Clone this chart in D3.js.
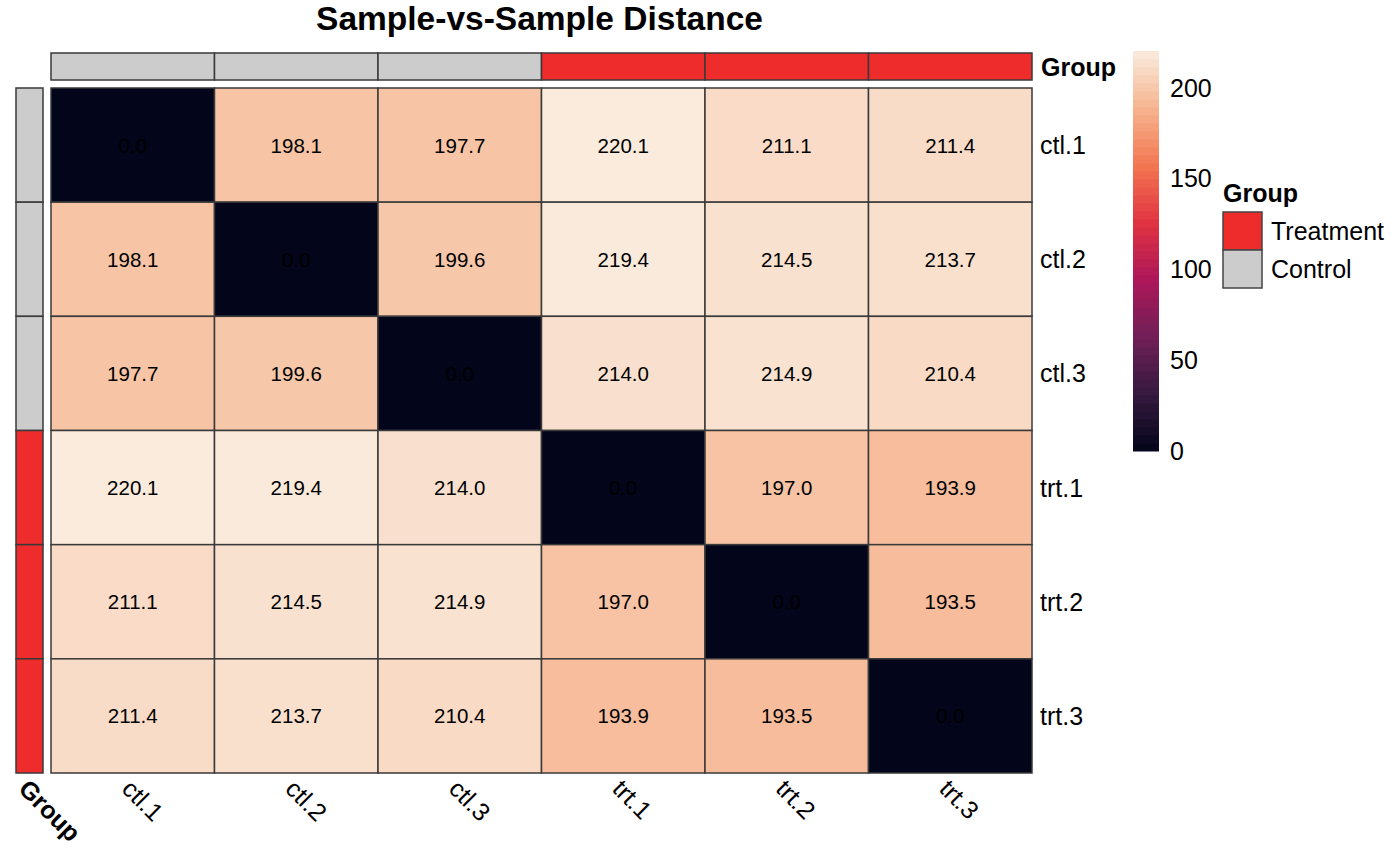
<!DOCTYPE html>
<html>
<head>
<meta charset="utf-8">
<script src="https://cdn.jsdelivr.net/npm/d3@7"></script>
<style>
  html, body { margin: 0; padding: 0; background: #fff; }
  svg { display: block; font-family: "Liberation Sans", Arial, Helvetica, sans-serif; }
</style>
</head>
<body>
<svg id="chart" width="1400" height="866"></svg>
<script>
// ---- data ----
const samples = ["ctl.1", "ctl.2", "ctl.3", "trt.1", "trt.2", "trt.3"];
const groups = ["Control", "Control", "Control", "Treatment", "Treatment", "Treatment"];
const distRows = [
  [0.0, 198.1, 197.7, 220.1, 211.1, 211.4],
  [198.1, 0.0, 199.6, 219.4, 214.5, 213.7],
  [197.7, 199.6, 0.0, 214.0, 214.9, 210.4],
  [220.1, 219.4, 214.0, 0.0, 197.0, 193.9],
  [211.1, 214.5, 214.9, 197.0, 0.0, 193.5],
  [211.4, 213.7, 210.4, 193.9, 193.5, 0.0]
];
const legendTicks = [0, 50, 100, 150, 200];
const groupLevels = ["Treatment", "Control"];
const groupColors = ["#EE2C2C", "#CCCCCC"];
const title = "Sample-vs-Sample Distance";
const annoName = "Group";
// rocket palette stops
const rocketStops = ["#03051a", "#35193e", "#701f57", "#ad1759", "#e13342", "#f37651", "#f6b48f", "#faebdd"];

// ---- layout ----
const svg = d3.select("#chart");
const L = 51, R = 1032, T = 88, B = 773;
const stroke = "#3a3a3a";

const x = d3.scaleBand().domain(samples).range([L, R]);
const y = d3.scaleBand().domain(samples).range([T, B]);
const vmax = d3.max(distRows.flat());
const color = d3.scaleSequential(d3.piecewise(d3.interpolateRgb, rocketStops)).domain([0, vmax]);
const gcol = d3.scaleOrdinal().domain(groupLevels).range(groupColors);

const cells = [];
distRows.forEach((row, i) => row.forEach((v, j) => cells.push({r: samples[i], c: samples[j], v})));

// title
svg.append("text").attr("x", 539.5).attr("y", 30)
  .attr("text-anchor", "middle").attr("font-size", 33.5).attr("font-weight", "bold")
  .text(title);

// heatmap cells
svg.append("g").selectAll("rect").data(cells).join("rect")
  .attr("x", d => x(d.c)).attr("y", d => y(d.r))
  .attr("width", x.bandwidth()).attr("height", y.bandwidth())
  .attr("fill", d => color(d.v)).attr("stroke", stroke).attr("stroke-width", 1.5);

svg.append("g").selectAll("text").data(cells).join("text")
  .attr("x", d => x(d.c) + x.bandwidth() / 2).attr("y", d => y(d.r) + y.bandwidth() / 2)
  .attr("text-anchor", "middle").attr("dominant-baseline", "central")
  .attr("font-size", 20.5).attr("fill", "#000")
  .text(d => d.v.toFixed(1));

// top annotation
const topY0 = 53, topY1 = 80;
svg.append("g").selectAll("rect").data(samples).join("rect")
  .attr("x", d => x(d)).attr("y", topY0).attr("width", x.bandwidth()).attr("height", topY1 - topY0)
  .attr("fill", (d, i) => gcol(groups[i])).attr("stroke", stroke).attr("stroke-width", 1.5);
svg.append("text").attr("x", 1041).attr("y", (topY0 + topY1) / 2)
  .attr("dominant-baseline", "central").attr("font-size", 25).attr("font-weight", "bold").text(annoName);

// left annotation
const leftX0 = 16, leftX1 = 43;
svg.append("g").selectAll("rect").data(samples).join("rect")
  .attr("x", leftX0).attr("y", d => y(d)).attr("width", leftX1 - leftX0).attr("height", y.bandwidth())
  .attr("fill", (d, i) => gcol(groups[i])).attr("stroke", stroke).attr("stroke-width", 1.5);
svg.append("text")
  .attr("transform", `translate(${(leftX0 + leftX1) / 2 - 6},784) rotate(45)`)
  .attr("dominant-baseline", "central").attr("font-size", 25).attr("font-weight", "bold").text(annoName);

// row names
svg.append("g").selectAll("text").data(samples).join("text")
  .attr("x", 1040).attr("y", d => y(d) + y.bandwidth() / 2)
  .attr("dominant-baseline", "central").attr("font-size", 25).text(d => d);

// column names
svg.append("g").selectAll("text").data(samples).join("text")
  .attr("transform", d => `translate(${x(d) + x.bandwidth() / 2 - 6},784) rotate(45)`)
  .attr("dominant-baseline", "central").attr("font-size", 25).text(d => d);

// color bar
const cbX = 1133, cbW = 26, cbTop = 51, cbBot = 451;
const cy = d3.scaleLinear().domain([0, vmax]).range([cbBot, cbTop]);
const nBands = 50;
const bands = d3.range(nBands).map(i => vmax * i / nBands);
svg.append("g").selectAll("rect").data(bands).join("rect")
  .attr("x", cbX).attr("width", cbW)
  .attr("y", d => cy(d + vmax / nBands)).attr("height", d => cy(d) - cy(d + vmax / nBands) + 0.5)
  .attr("fill", d => color(d + vmax / nBands / 2));
svg.append("g").selectAll("text").data(legendTicks).join("text")
  .attr("x", 1170).attr("y", d => cy(d))
  .attr("dominant-baseline", "central").attr("font-size", 25).text(d => d);

// group legend
svg.append("text").attr("x", 1223).attr("y", 202)
  .attr("font-size", 25).attr("font-weight", "bold").text(annoName);
const lg = svg.append("g").selectAll("g").data(groupLevels).join("g")
  .attr("transform", (d, i) => `translate(1223,${212 + i * 38})`);
lg.append("rect").attr("width", 39).attr("height", 38)
  .attr("fill", d => gcol(d)).attr("stroke", "#444").attr("stroke-width", 1.5);
lg.append("text").attr("x", 48).attr("y", 19).attr("dominant-baseline", "central")
  .attr("font-size", 25).text(d => d);
</script>
</body>
</html>
